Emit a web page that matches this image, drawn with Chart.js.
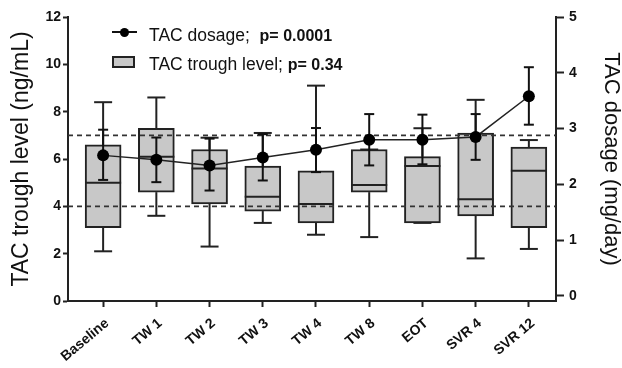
<!DOCTYPE html>
<html>
<head>
<meta charset="utf-8">
<title>TAC trough level and dosage</title>
<script src="https://cdn.jsdelivr.net/npm/chart.js"></script>
<style>
    html, body { margin: 0; padding: 0; background: #fff; }
    #wrap { position: relative; width: 622px; height: 368px; }
    .legend { position: absolute; left: 149px; font: 17.5px "Liberation Sans", Arial, sans-serif; line-height: 20px; color: #111; white-space: pre; }
    .legend b { font-weight: bold; font-size: 16px; }
    .mark { position: absolute; box-sizing: border-box; }
</style>
</head>
<body>
<div id="wrap">
    <canvas id="dataChart" width="622" height="368"></canvas>
    <div class="mark" style="left:112px;top:31px;width:25px;height:2px;background:#111"></div>
    <div class="mark" style="left:120px;top:28px;width:9px;height:9px;border-radius:50%;background:#000"></div>
    <div class="legend" style="top:25px">TAC dosage;  <b>p= 0.0001</b></div>
    <div class="mark" style="left:112px;top:56px;width:23px;height:12px;background:#c8c8c8;border:2px solid #222"></div>
    <div class="legend" style="top:54px">TAC trough level; <b>p= 0.34</b></div>
</div>
<script>
// time points
var labels = ['Baseline', 'TW 1', 'TW 2', 'TW 3', 'TW 4', 'TW 8', 'EOT', 'SVR 4', 'SVR 12'];

// TAC trough level (ng/mL), box plot per time point
var troughMin    = [2.1, 3.6, 2.3, 3.3, 2.8, 2.7, 3.3, 1.8, 2.2];
var troughQ1     = [3.1, 4.6, 4.1, 3.8, 3.3, 4.6, 3.3, 3.6, 3.1];
var troughMedian = [5.0, 6.1, 5.6, 4.4, 4.1, 4.9, 5.7, 4.3, 5.5];
var troughQ3     = [6.6, 7.3, 6.4, 5.7, 5.5, 6.4, 6.1, 7.1, 6.5];
var troughMax    = [8.4, 8.6, 6.9, 7.1, 9.1, 6.4, 7.3, 8.5, 6.8];

// TAC dosage (mg/day), mean with error bars
var dosage     = [2.52, 2.44, 2.34, 2.48, 2.62, 2.80, 2.80, 2.85, 3.58];
var dosageHigh = [2.98, 2.84, 2.82, 2.90, 3.01, 3.26, 3.25, 3.26, 4.10];
var dosageLow  = [2.08, 2.04, 1.89, 2.07, 2.22, 2.34, 2.36, 2.44, 3.07];

// axes
var leftTicks = [0, 2, 4, 6, 8, 10, 12];
var rightTicks = [0, 1, 2, 3, 4, 5];
var targetLines = [4, 7];

var FONT = '"Liberation Sans", Arial, sans-serif';
var INK = '#111';

function hLine(ctx, x1, x2, y) {
    ctx.beginPath(); ctx.moveTo(x1, y); ctx.lineTo(x2, y); ctx.stroke();
}
function vLine(ctx, x, y1, y2) {
    ctx.beginPath(); ctx.moveTo(x, y1); ctx.lineTo(x, y2); ctx.stroke();
}

// whiskers, medians, reference lines and dosage error bars
var boxExtras = {
    id: 'boxExtras',
    beforeDatasetsDraw: function(chart) {
        var ctx = chart.ctx, x = chart.scales.x, y = chart.scales.y;
        ctx.save();
        ctx.strokeStyle = '#222';
        ctx.lineWidth = 2;
        labels.forEach(function(_, i) {
            var px = x.getPixelForValue(i);
            vLine(ctx, px, y.getPixelForValue(troughQ1[i]), y.getPixelForValue(troughMin[i]));
            vLine(ctx, px, y.getPixelForValue(troughQ3[i]), y.getPixelForValue(troughMax[i]));
            hLine(ctx, px - 9, px + 9, y.getPixelForValue(troughMin[i]));
            hLine(ctx, px - 9, px + 9, y.getPixelForValue(troughMax[i]));
        });
        ctx.restore();
    },
    afterDatasetDraw: function(chart, args) {
        if (args.index !== 0) return;
        var ctx = chart.ctx, x = chart.scales.x, y = chart.scales.y, y2 = chart.scales.y2;
        var area = chart.chartArea;
        ctx.save();
        ctx.strokeStyle = '#222';
        ctx.lineWidth = 2;
        labels.forEach(function(_, i) {
            var px = x.getPixelForValue(i);
            hLine(ctx, px - 18, px + 18, y.getPixelForValue(troughMedian[i]));
        });
        // target range
        ctx.strokeStyle = '#333';
        ctx.lineWidth = 1.6;
        ctx.setLineDash([5, 4]);
        targetLines.forEach(function(v) {
            hLine(ctx, area.left, area.right, y.getPixelForValue(v));
        });
        ctx.setLineDash([]);
        // dosage error bars
        ctx.strokeStyle = '#111';
        ctx.lineWidth = 2;
        labels.forEach(function(_, i) {
            var px = x.getPixelForValue(i);
            var top = y2.getPixelForValue(dosageHigh[i]);
            var bot = y2.getPixelForValue(dosageLow[i]);
            vLine(ctx, px, top, bot);
            hLine(ctx, px - 5, px + 5, top);
            hLine(ctx, px - 5, px + 5, bot);
        });
        ctx.restore();
    }
};

var ctx = document.getElementById('dataChart').getContext('2d');
new Chart(ctx, {
    type: 'bar',
    data: {
        datasets: [{
            type: 'bar',
            label: 'TAC trough level',
            data: labels.map(function(_, i) { return { x: i, y: [troughQ1[i], troughQ3[i]] }; }),
            yAxisID: 'y',
            backgroundColor: '#c8c8c8',
            borderColor: '#222',
            borderWidth: 2,
            borderSkipped: false,
            barThickness: 36,
            order: 2
        }, {
            type: 'line',
            label: 'TAC dosage',
            data: labels.map(function(_, i) { return { x: i, y: dosage[i] }; }),
            yAxisID: 'y2',
            borderColor: '#222',
            borderWidth: 1.5,
            pointRadius: 6,
            pointBackgroundColor: '#000',
            pointBorderWidth: 0,
            order: 1
        }]
    },
    options: {
        responsive: false,
        animation: false,
        layout: { padding: { top: 17, left: 0, right: 0, bottom: 0 } },
        plugins: {
            legend: { display: false },
            tooltip: { enabled: false }
        },
        scales: {
            x: {
                type: 'linear',
                offset: false,
                min: -0.66,
                max: 8.51,
                afterBuildTicks: function(s) { s.ticks = labels.map(function(_, i) { return { value: i }; }); },
                afterFit: function(s) { s.height = 67; },
                grid: { offset: false, drawOnChartArea: false, drawTicks: true, tickLength: 6, tickColor: '#222', tickWidth: 2 },
                border: { color: '#222', width: 2 },
                ticks: {
                    autoSkip: false,
                    minRotation: 40,
                    maxRotation: 40,
                    padding: 8,
                    labelOffset: 4,
                    color: INK,
                    font: { family: FONT, size: 14, weight: 'bold' },
                    callback: function(v) { return labels[v]; }
                }
            },
            y: {
                position: 'left',
                min: 0,
                max: 12,
                afterBuildTicks: function(s) { s.ticks = leftTicks.map(function(v) { return { value: v }; }); },
                afterFit: function(s) { s.width = 68; },
                grid: { drawOnChartArea: false, drawTicks: true, tickLength: 5, tickColor: '#222', tickWidth: 2 },
                border: { color: '#222', width: 2 },
                ticks: { padding: 2, color: INK, font: { family: FONT, size: 14, weight: 'bold' } },
                title: {
                    display: true,
                    text: 'TAC trough level (ng/mL)',
                    color: INK,
                    padding: { top: 10, bottom: 0 },
                    font: { family: FONT, size: 23, lineHeight: 1 }
                }
            },
            y2: {
                position: 'right',
                min: -0.09,
                max: 5,
                afterBuildTicks: function(s) { s.ticks = rightTicks.map(function(v) { return { value: v }; }); },
                afterFit: function(s) { s.width = 66; },
                grid: { drawOnChartArea: false, drawTicks: true, tickLength: 8, tickColor: '#222', tickWidth: 2 },
                border: { color: '#222', width: 2 },
                ticks: { padding: 5, color: INK, font: { family: FONT, size: 14, weight: 'bold' } },
                title: {
                    display: true,
                    text: 'TAC dosage (mg/day)',
                    color: INK,
                    padding: { top: 0, bottom: 0 },
                    font: { family: FONT, size: 22, lineHeight: 1 }
                }
            }
        }
    },
    plugins: [boxExtras]
});
</script>
</body>
</html>
